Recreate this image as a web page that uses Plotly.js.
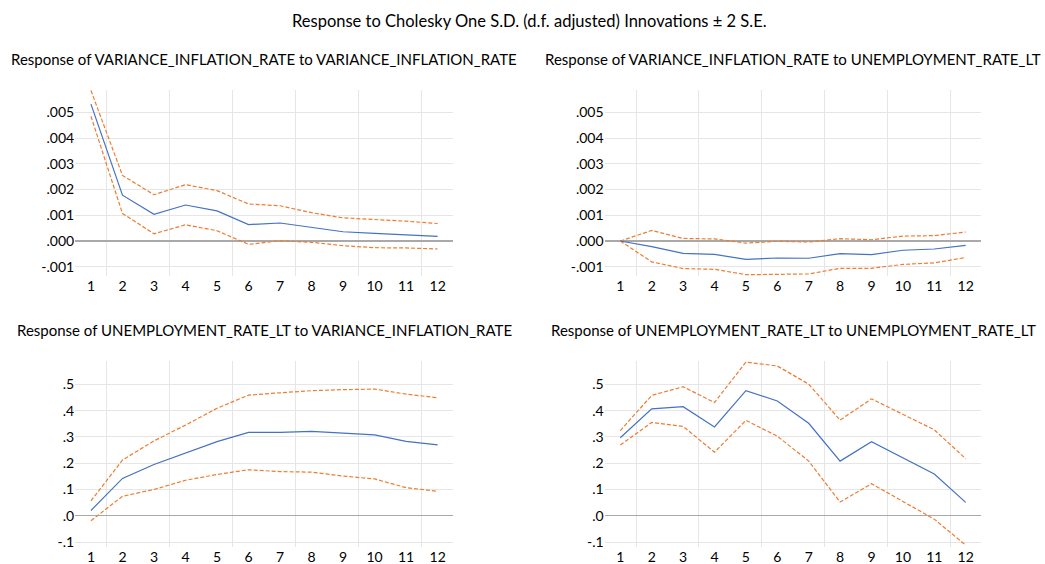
<!DOCTYPE html>
<html>
<head>
<meta charset="utf-8">
<script src="https://cdn.plot.ly/plotly-3.0.1.min.js"></script>
<style>
  html, body { margin: 0; padding: 0; background: #ffffff; }
  #chart { width: 1045px; height: 564px; }
</style>
</head>
<body>
<div id="chart"></div>
<script>
// ---------- data ----------
const periods = [1, 2, 3, 4, 5, 6, 7, 8, 9, 10, 11, 12];

const mainTitle = "Response to Cholesky One S.D. (d.f. adjusted) Innovations \u00b1 2 S.E.";
const panelTitles = [
  "Response of VARIANCE_INFLATION_RATE to VARIANCE_INFLATION_RATE",
  "Response of VARIANCE_INFLATION_RATE to UNEMPLOYMENT_RATE_LT",
  "Response of UNEMPLOYMENT_RATE_LT to VARIANCE_INFLATION_RATE",
  "Response of UNEMPLOYMENT_RATE_LT to UNEMPLOYMENT_RATE_LT"
];

// Response of VARIANCE_INFLATION_RATE to VARIANCE_INFLATION_RATE
const virVir   = [0.00532, 0.00178, 0.00104, 0.00140, 0.00117, 0.00064, 0.00070, 0.00052, 0.00036, 0.00030, 0.00025, 0.00018];
const virVirUp = [0.00585, 0.00255, 0.00180, 0.00219, 0.00196, 0.00144, 0.00137, 0.00110, 0.00090, 0.00084, 0.00077, 0.00068];
const virVirLo = [0.00485, 0.00107, 0.00028, 0.00063, 0.00040, -0.00013, 0.00001, -0.00005, -0.00018, -0.00026, -0.00027, -0.00031];

// Response of VARIANCE_INFLATION_RATE to UNEMPLOYMENT_RATE_LT
const virUnr   = [0.00000, -0.00022, -0.00048, -0.00052, -0.00071, -0.00066, -0.00067, -0.00049, -0.00053, -0.00036, -0.00031, -0.00017];
const virUnrUp = [0.00000, 0.00041, 0.00010, 0.00008, -0.00008, -0.00001, -0.00004, 0.00009, 0.00005, 0.00019, 0.00021, 0.00035];
const virUnrLo = [0.00000, -0.00081, -0.00107, -0.00110, -0.00131, -0.00129, -0.00128, -0.00106, -0.00106, -0.00091, -0.00085, -0.00064];

// Response of UNEMPLOYMENT_RATE_LT to VARIANCE_INFLATION_RATE
const unrVir   = [0.020, 0.142, 0.195, 0.240, 0.282, 0.317, 0.317, 0.321, 0.315, 0.308, 0.283, 0.270];
const unrVirUp = [0.057, 0.212, 0.285, 0.345, 0.409, 0.459, 0.468, 0.476, 0.480, 0.482, 0.463, 0.449];
const unrVirLo = [-0.019, 0.074, 0.100, 0.135, 0.157, 0.175, 0.168, 0.166, 0.151, 0.140, 0.107, 0.093];

// Response of UNEMPLOYMENT_RATE_LT to UNEMPLOYMENT_RATE_LT
const unrUnr   = [0.297, 0.407, 0.415, 0.338, 0.476, 0.437, 0.352, 0.208, 0.282, 0.221, 0.159, 0.051];
const unrUnrUp = [0.324, 0.458, 0.491, 0.431, 0.585, 0.570, 0.501, 0.364, 0.445, 0.386, 0.327, 0.217];
const unrUnrLo = [0.269, 0.355, 0.340, 0.242, 0.363, 0.303, 0.208, 0.052, 0.122, 0.053, -0.013, -0.112];

// tick labels
const topTickVals = [-0.001, 0, 0.001, 0.002, 0.003, 0.004, 0.005];
const topTickText = ["-.001", ".000", ".001", ".002", ".003", ".004", ".005"];
const botTickVals = [-0.1, 0, 0.1, 0.2, 0.3, 0.4, 0.5];
const botTickText = ["-.1", ".0", ".1", ".2", ".3", ".4", ".5"];
const xGridVals = [1.5, 3.5, 5.5, 7.5, 9.5, 11.5];

// ---------- styling ----------
const W = 1045, H = 564;
const FONT = "Lato, 'Open Sans', 'Liberation Sans', sans-serif";
const BLUE = "#4472c4";
const ORANGE = "#ed7d31";
const GRID = "#e6e6e6";
const ZERO = "#a9a9a9";

// pixel boxes for panels: [left, right, top, bottom]
const boxes = [
  [75.2, 453.4, 90, 276],
  [604.6, 981.4, 90, 276],
  [75.2, 453.4, 361, 547],
  [604.6, 981.4, 361, 547]
];
const yRanges = [
  [-0.00136, 0.00587],
  [-0.00136, 0.00587],
  [-0.119, 0.589],
  [-0.119, 0.589]
];
const yTicks = [
  [topTickVals, topTickText],
  [topTickVals, topTickText],
  [botTickVals, botTickText],
  [botTickVals, botTickText]
];
const series = [
  [virVir, virVirUp, virVirLo],
  [virUnr, virUnrUp, virUnrLo],
  [unrVir, unrVirUp, unrVirLo],
  [unrUnr, unrUnrUp, unrUnrLo]
];

const traces = [];
const layout = {
  width: W, height: H, autosize: false,
  margin: {l: 0, r: 0, t: 0, b: 0, pad: 0},
  paper_bgcolor: "#ffffff", plot_bgcolor: "#ffffff",
  showlegend: false,
  font: {family: FONT, size: 14, color: "#000000"},
  annotations: [{
    text: mainTitle, xref: "paper", yref: "paper",
    x: 529.7 / W, y: 1 - 21 / H, xanchor: "center", yanchor: "middle",
    showarrow: false, font: {family: FONT, size: 16.5, color: "#000000"}
  }]
};

boxes.forEach((b, i) => {
  const n = i === 0 ? "" : String(i + 1);
  const xa = "x" + n, ya = "y" + n;
  const [mid, up, lo] = series[i];
  traces.push({x: periods, y: up, xaxis: xa, yaxis: ya, type: "scatter", mode: "lines",
    line: {color: ORANGE, width: 1.2, dash: "4px,2px"}, hoverinfo: "skip"});
  traces.push({x: periods, y: lo, xaxis: xa, yaxis: ya, type: "scatter", mode: "lines",
    line: {color: ORANGE, width: 1.2, dash: "4px,2px"}, hoverinfo: "skip"});
  traces.push({x: periods, y: mid, xaxis: xa, yaxis: ya, type: "scatter", mode: "lines",
    line: {color: BLUE, width: 1.2}, hoverinfo: "skip"});

  layout["xaxis" + n] = {
    domain: [b[0] / W, b[1] / W], anchor: ya, range: [0.5, 12.5],
    tickmode: "array", tickvals: periods, ticktext: periods.map(String),
    showgrid: false, zeroline: false, showline: false, ticks: "",
    tickfont: {family: FONT, size: 14, color: "#000000"},
    minor: {tickmode: "array", tickvals: xGridVals, showgrid: true, gridcolor: GRID, gridwidth: 1, ticks: ""},
    fixedrange: true
  };
  layout["yaxis" + n] = {
    domain: [1 - b[3] / H, 1 - b[2] / H], anchor: xa, range: yRanges[i],
    tickmode: "array", tickvals: yTicks[i][0], ticktext: yTicks[i][1],
    showgrid: true, gridcolor: GRID, gridwidth: 1,
    zeroline: true, zerolinecolor: ZERO, zerolinewidth: 1.2,
    showline: false, ticks: "",
    tickfont: {family: FONT, size: 14, color: "#000000"},
    fixedrange: true
  };
  layout.annotations.push({
    text: panelTitles[i], xref: "paper", yref: "paper",
    x: ((b[0] + b[1]) / 2) / W, y: 1 - (i < 2 ? 59 : 330) / H,
    xanchor: "center", yanchor: "middle", showarrow: false,
    font: {family: FONT, size: 15, color: "#000000"}
  });
});

Plotly.newPlot("chart", traces, layout, {staticPlot: true, displayModeBar: false});
</script>
</body>
</html>
